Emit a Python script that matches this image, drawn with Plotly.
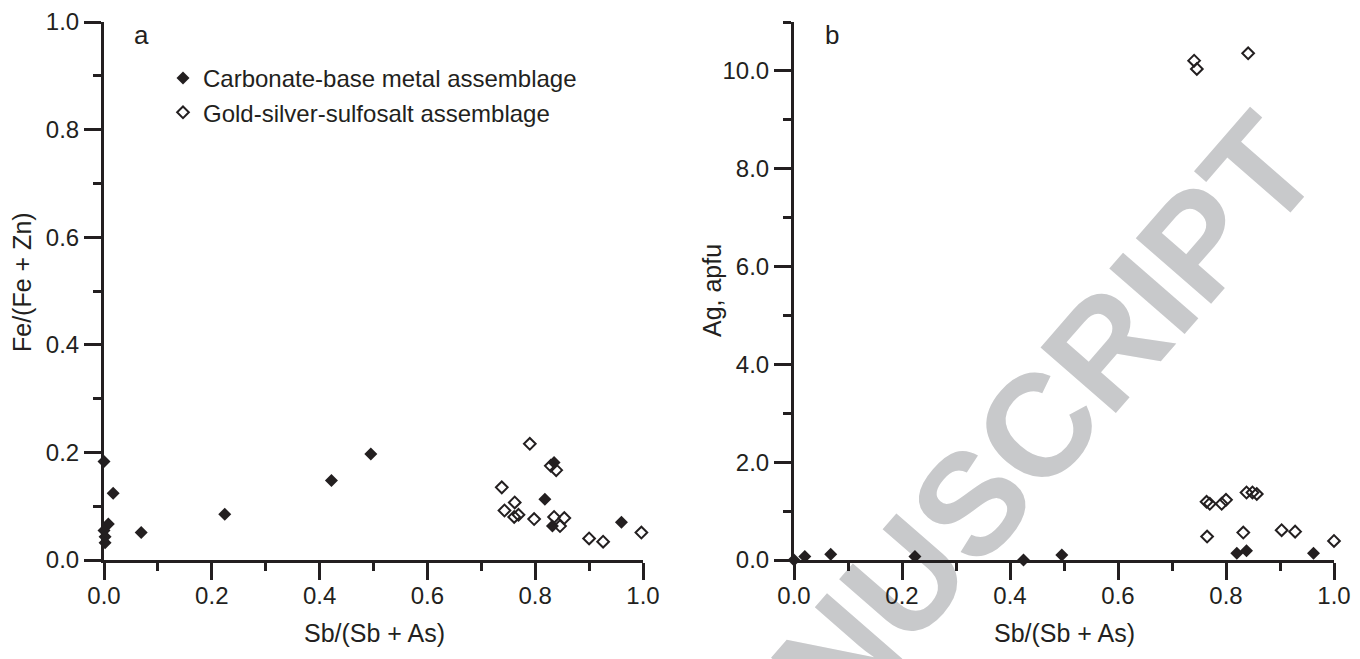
import math
import plotly.graph_objects as go

# ---------------- data ----------------
# Panel a: Fe/(Fe+Zn) vs Sb/(Sb+As)
a_carb_x = [0.000, 0.017, 0.008, 0.000, 0.002, 0.002, 0.069, 0.224, 0.422, 0.495, 0.835, 0.818, 0.832, 0.960]
a_carb_y = [0.183, 0.124, 0.067, 0.055, 0.043, 0.032, 0.051, 0.085, 0.148, 0.197, 0.181, 0.113, 0.063, 0.070]
a_gold_x = [0.790, 0.829, 0.839, 0.738, 0.762, 0.743, 0.761, 0.769, 0.798, 0.835, 0.854, 0.846, 0.900, 0.926, 0.997]
a_gold_y = [0.216, 0.175, 0.167, 0.135, 0.107, 0.092, 0.080, 0.084, 0.076, 0.080, 0.078, 0.063, 0.040, 0.034, 0.051]

# Panel b: Ag (apfu) vs Sb/(Sb+As)
b_carb_x = [0.000, 0.020, 0.068, 0.224, 0.425, 0.496, 0.820, 0.838, 0.962]
b_carb_y = [0.00, 0.07, 0.12, 0.07, 0.00, 0.10, 0.14, 0.19, 0.14]
b_gold_x = [0.741, 0.746, 0.841, 0.764, 0.770, 0.792, 0.800, 0.838, 0.849, 0.857, 0.765, 0.832, 0.903, 0.928, 1.000]
b_gold_y = [10.21, 10.04, 10.36, 1.19, 1.15, 1.15, 1.23, 1.38, 1.38, 1.35, 0.48, 0.56, 0.61, 0.58, 0.39]

series_names = ["Carbonate-base metal assemblage", "Gold-silver-sulfosalt assemblage"]
panel_letters = ["a", "b"]
x_title = "Sb/(Sb + As)"
y_titles = ["Fe/(Fe + Zn)", "Ag, apfu"]
watermark_text = "ACCEPTED MANUSCRIPT"

# ---------------- style ----------------
W, H = 1360, 659
INK = "#231f20"
FONT = "Liberation Sans, Arial, Helvetica, sans-serif"

def px_x(p):
    return p / W

def px_y(p):
    return 1 - p / H

fig = go.Figure()

filled = dict(symbol="diamond", size=10, color=INK, line=dict(width=0))
opened = dict(symbol="diamond-open", size=9, color=INK, line=dict(width=2, color=INK))

fig.add_trace(go.Scatter(x=a_carb_x, y=a_carb_y, mode="markers", marker=filled,
                         name=series_names[0], xaxis="x", yaxis="y", cliponaxis=False))
fig.add_trace(go.Scatter(x=a_gold_x, y=a_gold_y, mode="markers", marker=opened,
                         name=series_names[1], xaxis="x", yaxis="y", cliponaxis=False))
fig.add_trace(go.Scatter(x=b_carb_x, y=b_carb_y, mode="markers", marker=filled,
                         name=series_names[0], xaxis="x2", yaxis="y2", cliponaxis=False,
                         showlegend=False))
fig.add_trace(go.Scatter(x=b_gold_x, y=b_gold_y, mode="markers", marker=opened,
                         name=series_names[1], xaxis="x2", yaxis="y2", cliponaxis=False,
                         showlegend=False))

ydom = [px_y(560), px_y(22)]
axis_common = dict(
    showline=True, linewidth=3, linecolor=INK, mirror=False,
    ticks="outside", ticklen=17, tickwidth=3, tickcolor=INK,
    showgrid=False, zeroline=False, tickformat=".1f", automargin=False,
    tickfont=dict(family=FONT, size=24, color=INK),
    layer="above traces",
)

fig.update_layout(
    template="none",
    width=W, height=H,
    margin=dict(l=0, r=0, t=0, b=0, pad=0),
    paper_bgcolor="white", plot_bgcolor="white",
    font=dict(family=FONT, color=INK),
    xaxis=dict(domain=[px_x(104), px_x(643)], range=[0, 1], tick0=0, dtick=0.2,
               minor=dict(dtick=0.1, ticks="outside", ticklen=8, tickwidth=3, tickcolor=INK),
               anchor="y", ticklabelstandoff=-5, **axis_common),
    yaxis=dict(domain=ydom, range=[0, 1], tick0=0, dtick=0.2,
               minor=dict(dtick=0.1, ticks="outside", ticklen=8, tickwidth=3, tickcolor=INK),
               anchor="x", **axis_common),
    xaxis2=dict(domain=[px_x(794), px_x(1334)], range=[0, 1], tick0=0, dtick=0.2,
                minor=dict(dtick=0.1, ticks="outside", ticklen=8, tickwidth=3, tickcolor=INK),
                anchor="y2", ticklabelstandoff=-5, **axis_common),
    yaxis2=dict(domain=ydom, range=[0, 11], tick0=0, dtick=2,
                minor=dict(dtick=1, ticks="outside", ticklen=8, tickwidth=3, tickcolor=INK),
                anchor="x2", **axis_common),
    legend=dict(x=px_x(163), y=px_y(56), xanchor="left", yanchor="top",
                font=dict(family=FONT, size=24, color=INK),
                bgcolor="rgba(0,0,0,0)", borderwidth=0, itemsizing="trace",
                tracegroupgap=0),
    showlegend=True,
)

# watermark (drawn beneath the plot)
ang = math.radians(49)
dxu, dyu = math.cos(ang), -math.sin(ang)
cx, cy = 686, 810
L = 300
fig.add_shape(type="line", xref="paper", yref="paper",
              x0=px_x(cx - L * dxu), y0=px_y(cy - L * dyu),
              x1=px_x(cx + L * dxu), y1=px_y(cy + L * dyu),
              line=dict(color="rgba(0,0,0,0)", width=1), layer="below",
              label=dict(text=watermark_text, textposition="middle",
                         xanchor="center", yanchor="middle",
                         font=dict(family=FONT, size=145, color="#c8c9cb", weight="bold")))

ann = []
ann.append(dict(text=panel_letters[0], x=px_x(141), y=px_y(35), xref="paper", yref="paper",
                showarrow=False, font=dict(family=FONT, size=26, color=INK),
                xanchor="center", yanchor="middle"))
ann.append(dict(text=panel_letters[1], x=px_x(832), y=px_y(35), xref="paper", yref="paper",
                showarrow=False, font=dict(family=FONT, size=26, color=INK),
                xanchor="center", yanchor="middle"))
for cxp in (374, 1064):
    ann.append(dict(text=x_title, x=px_x(cxp), y=px_y(633), xref="paper", yref="paper",
                    showarrow=False, font=dict(family=FONT, size=25, color=INK),
                    xanchor="center", yanchor="middle"))
ann.append(dict(text=y_titles[0], x=px_x(22), y=px_y(282), xref="paper", yref="paper",
                showarrow=False, textangle=-90, font=dict(family=FONT, size=25, color=INK),
                xanchor="center", yanchor="middle"))
ann.append(dict(text=y_titles[1], x=px_x(712), y=px_y(291), xref="paper", yref="paper",
                showarrow=False, textangle=-90, font=dict(family=FONT, size=25, color=INK),
                xanchor="center", yanchor="middle"))
fig.update_layout(annotations=ann)

fig.write_html("out.html",
               config={"displayModeBar": False},
               post_script="document.body.style.margin='0px';document.body.style.overflow='hidden';")
